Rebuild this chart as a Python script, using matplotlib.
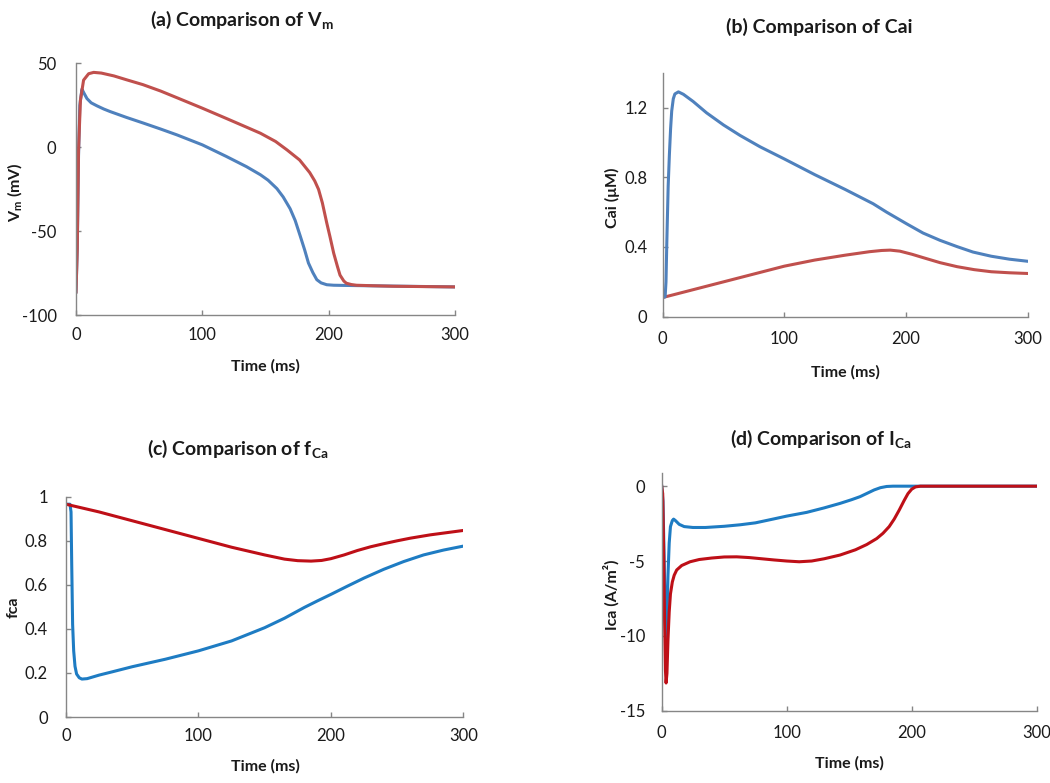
import matplotlib
matplotlib.use("Agg")
import matplotlib.pyplot as plt

# ---------------- data ----------------
# (a) membrane potential
t_a_red = [0, 1, 2, 3.5, 6, 10, 14, 20, 30, 40, 53, 67, 80, 100, 119, 135, 146, 158, 167,
           177, 185, 189, 192, 195, 198.5, 201, 204, 207, 209, 212, 214, 218, 222, 235, 251, 275, 300]
v_a_red = [-86, -60, -2, 28, 40, 43.8, 44.6, 44.2, 42.5, 40.2, 37.3, 33.5, 29.5, 23.3, 17.2, 12, 8.4, 3.5,
           -1.5, -7.5, -15, -20, -25, -33, -45, -53, -63, -71, -76, -79.5, -80.8, -81.6, -82, -82.3,
           -82.6, -82.8, -83]
t_a_blue = [0, 1, 2, 3, 4.7, 6.5, 8.7, 12, 16.6, 22, 27, 40, 53.5, 67, 80, 100, 119, 135, 146, 152, 159,
            164, 169.5, 173.5, 177.4, 181, 184, 187.5, 190.6, 194, 198.5, 204, 211.7, 230, 260, 300]
v_a_blue = [-86, -60, -5, 25, 34.6, 32, 29, 26.5, 24.7, 22.8, 21.3, 17.8, 14.4, 10.9, 7.4, 1.5, -5.4, -11.5,
            -16.3, -19.5, -24.5, -29.5, -36.5, -43.5, -52.5, -61, -68.8, -74.5, -78.7, -80.6, -81.7, -82,
            -82.1, -82.3, -82.6, -83]

# (b) intracellular calcium
t_b_blue = [0, 2, 2.7, 3.3, 3.8, 4.5, 5.5, 6.5, 7.4, 8.7, 10, 12.9, 17, 25, 36, 50, 63.6, 80, 100,
            125, 150, 173, 184, 200.5, 214, 228, 242, 255, 270, 285, 300]
c_b_blue = [0.11, 0.114, 0.2, 0.4, 0.55, 0.75, 0.93, 1.08, 1.18, 1.25, 1.278, 1.29, 1.276, 1.235, 1.17,
            1.1, 1.04, 0.975, 0.905, 0.815, 0.73, 0.648, 0.6, 0.533, 0.48, 0.438, 0.402, 0.371, 0.347,
            0.33, 0.318]
t_b_red = [0, 25, 50, 75, 100, 125, 150, 170, 180, 187, 195, 205, 214, 228, 242, 256, 270, 285, 300]
c_b_red = [0.11, 0.155, 0.2, 0.245, 0.29, 0.325, 0.353, 0.373, 0.38, 0.382, 0.376, 0.358, 0.339, 0.31,
           0.287, 0.27, 0.258, 0.252, 0.248]

# (c) fCa gate
t_c_red = [0, 25, 50, 75, 100, 125, 150, 165, 175, 185, 193, 200, 210, 220, 230, 240, 250, 260, 275,
           290, 300]
f_c_red = [0.965, 0.93, 0.89, 0.85, 0.81, 0.77, 0.735, 0.716, 0.709, 0.707, 0.71, 0.718, 0.735, 0.755,
           0.772, 0.786, 0.799, 0.811, 0.826, 0.838, 0.846]
t_c_blue = [0, 3, 3.8, 4.3, 5, 5.8, 6.8, 8, 10, 12, 16, 25, 35, 50, 75, 100, 125, 150, 165, 180, 190,
            200, 212, 225, 240, 255, 270, 285, 300]
f_c_blue = [0.965, 0.965, 0.93, 0.7, 0.42, 0.3, 0.23, 0.195, 0.178, 0.172, 0.174, 0.19, 0.205, 0.228,
            0.262, 0.3, 0.345, 0.405, 0.448, 0.497, 0.527, 0.556, 0.592, 0.63, 0.67, 0.705, 0.735, 0.757,
            0.775]

# (d) L-type calcium current
t_d_red = [0, 0.8, 1.5, 2.3, 3, 3.5, 4.2, 5, 6, 7, 8.5, 10, 12, 16, 22.7, 30, 40, 50, 60, 70, 80, 90,
           100, 110, 120, 130, 142.7, 155, 164, 172, 177, 182, 186, 190, 194, 197, 200, 203, 207, 300]
i_d_red = [0, -0.5, -4, -9, -12.3, -13.15, -12.5, -10.3, -8.4, -7.2, -6.4, -5.95, -5.6, -5.3, -5.05,
           -4.9, -4.8, -4.73, -4.72, -4.77, -4.85, -4.93, -5.0, -5.05, -5.0, -4.85, -4.6, -4.25, -3.9,
           -3.5, -3.15, -2.7, -2.2, -1.6, -0.95, -0.5, -0.2, -0.05, 0, 0]
t_d_blue = [0, 1, 2, 3, 3.6, 4.2, 5, 6, 7, 8.5, 9.5, 11, 14, 18, 25, 35, 50, 62.7, 75, 89, 100, 116,
            130, 142.7, 152, 158.7, 165, 170, 175, 180, 185, 300]
i_d_blue = [0, -1, -5, -9.5, -10.5, -9, -6, -3.8, -2.7, -2.3, -2.2, -2.3, -2.55, -2.7, -2.76, -2.76,
            -2.68, -2.58, -2.45, -2.2, -2.0, -1.75, -1.45, -1.15, -0.9, -0.7, -0.45, -0.25, -0.1, -0.02,
            0, 0]

# ---------------- style ----------------
W, H = 1050, 783
plt.rcParams['font.family'] = ['Lato', 'DejaVu Sans']
plt.rcParams['mathtext.default'] = 'regular'

RED1, BLUE1 = '#C0504D', '#4F81BD'
RED2, BLUE2 = '#BE0F17', '#1E7CC3'
GRAY = '#868686'
TXT = '#1a1a1a'

fig = plt.figure(figsize=(W / 100, H / 100), dpi=100)


def px_axes(l, r, b, t):
    return fig.add_axes([l / W, 1 - b / H, (r - l) / W, (b - t) / H])


def style(ax, xlim, ylim, yticks, ypad, xpad=8.5):
    ax.set_xlim(*xlim)
    ax.set_ylim(*ylim)
    ax.set_xticks([0, 100, 200, 300])
    ax.set_yticks(yticks)
    ax.set_yticklabels([f"{v:g}" for v in yticks])
    for s in ('top', 'right'):
        ax.spines[s].set_visible(False)
    for s in ('left', 'bottom'):
        ax.spines[s].set_color(GRAY)
        ax.spines[s].set_linewidth(1.0)
    ax.tick_params(axis='both', direction='in', length=3.5, width=1.0, color=GRAY,
                   labelsize=12, labelcolor=TXT)
    ax.tick_params(axis='y', pad=ypad)
    ax.tick_params(axis='x', pad=xpad)
    ax.patch.set_visible(False)


LW = 2.2

# (a)
ax = px_axes(76, 455, 315.5, 63.3)
ax.plot(t_a_blue, v_a_blue, color=BLUE1, lw=LW, solid_joinstyle='round')
ax.plot(t_a_red, v_a_red, color=RED1, lw=LW, solid_joinstyle='round')
style(ax, (0, 300), (-100, 50), [-100, -50, 0, 50], 14, xpad=8)

# (b)
ax = px_axes(662.7, 1027.7, 316.7, 72.7)
ax.plot(t_b_red, c_b_red, color=RED1, lw=LW, solid_joinstyle='round')
ax.plot(t_b_blue, c_b_blue, color=BLUE1, lw=LW, solid_joinstyle='round')
style(ax, (0, 300), (0, 1.4), [0, 0.4, 0.8, 1.2], 11, xpad=10.5)

# (c)
ax = px_axes(66, 463.3, 717, 496.5)
ax.plot(t_c_blue, f_c_blue, color=BLUE2, lw=LW, solid_joinstyle='round')
ax.plot(t_c_red, f_c_red, color=RED2, lw=LW, solid_joinstyle='round')
style(ax, (0, 300), (0, 1.0), [0, 0.2, 0.4, 0.6, 0.8, 1.0], 13, xpad=8)

# (d)
ax = px_axes(661.7, 1036.7, 710.7, 472.7)
ax.plot(t_d_blue, i_d_blue, color=BLUE2, lw=LW, solid_joinstyle='round')
ax.plot(t_d_red, i_d_red, color=RED2, lw=LW, solid_joinstyle='round')
style(ax, (0, 300), (-15, 0.9), [-15, -10, -5, 0], 12, xpad=10.5)


def ftext(x, y, s, **kw):
    fig.text(x / W, 1 - y / H, s, ha='center', va='center', color=TXT, **kw)


TSZ = 14
ftext(241.7, 20, r'(a) Comparison of V$_{m}$', fontsize=TSZ, fontweight='bold')
ftext(819.5, 27, '(b) Comparison of Cai', fontsize=TSZ, fontweight='bold')
ftext(238, 449, r'(c) Comparison of f$_{Ca}$', fontsize=TSZ, fontweight='bold')
ftext(821, 439, r'(d) Comparison of I$_{Ca}$', fontsize=TSZ, fontweight='bold')

LSZ = 11.5
ftext(265.5, 366, 'Time (ms)', fontsize=LSZ, fontweight='bold')
ftext(845, 372, 'Time (ms)', fontsize=LSZ, fontweight='bold')
ftext(265, 766, 'Time (ms)', fontsize=LSZ, fontweight='bold')
ftext(849, 763, 'Time (ms)', fontsize=LSZ, fontweight='bold')

ftext(15, 192, r'V$_{m}$ (mV)', fontsize=LSZ, fontweight='bold', rotation=90)
ftext(612, 198, 'Cai (μM)', fontsize=LSZ, fontweight='bold', rotation=90)
ftext(14, 607, 'fca', fontsize=LSZ, fontweight='bold', rotation=90)
ftext(611, 595, 'Ica (A/m²)', fontsize=LSZ, fontweight='bold', rotation=90)

fig.savefig('out.png', dpi=100, facecolor='white')
